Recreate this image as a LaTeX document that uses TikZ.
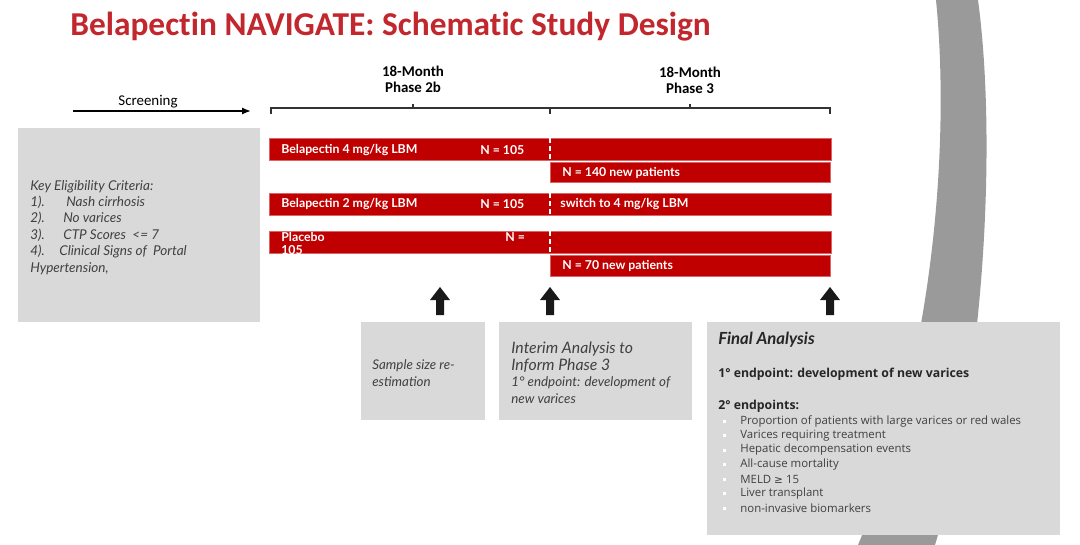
\documentclass[tikz,border=0pt]{standalone}
\usepackage{fontspec}
\setmainfont{Lato}
\newfontfamily\carlito[Ligatures=NoCommon]{Carlito}
\newfontfamily\opensans{Open Sans}
\newfontfamily\dejavu{DejaVu Sans}
\usetikzlibrary{positioning, arrows.meta}

\definecolor{titlered}{HTML}{C1272D}
\definecolor{barred}{HTML}{C00000}
\definecolor{boxgray}{HTML}{D9D9D9}
\definecolor{bandgray}{HTML}{9A9A9A}
\definecolor{txtgray}{HTML}{404040}

\tikzset{
	bar/.style={fill=barred, draw=barred!60!white, line width=0.3pt},
	bartext/.style={anchor=west, inner sep=0pt, text=white, font=\bfseries\fontsize{7}{8}\selectfont},
	boxtext/.style={anchor=north west, inner sep=0pt, align=left, text=txtgray},
	phasehead/.style={align=center, inner sep=0pt, font=\carlito\bfseries\fontsize{8.5}{9.2}\selectfont},
	listtext/.style={anchor=west, inner sep=0pt, text=txtgray, font=\opensans\fontsize{6.5}{8}\selectfont}
}

\begin{document}
\begin{tikzpicture}[x=0.02cm, y=-0.02cm]

	\useasboundingbox (0, 0) rectangle (1080, 545);
	\fill [white] (0, 0) rectangle (1080, 545);

	% grey band on the right
	\fill [bandgray] (936, 0) .. controls (950, 140) and (935, 360) .. (858, 545) -- (935, 545) .. controls (985, 380) and (997, 140) .. (978, 0) -- cycle;

	\node (title) [anchor=base west, inner sep=0pt, text=titlered, font=\carlito\bfseries\fontsize{19}{21}\selectfont] at (70, 35) {Belapectin NAVIGATE: Schematic Study Design};

	% screening arrow
	\coordinate (s1) at (73, 111);
	\coordinate (s2) at (251, 111);
	\draw [line width=1.1pt, -{Latex[length=5pt, width=4pt]}] (s1) -- (s2);
	\node (screen) [inner sep=0pt, font=\carlito\fontsize{8.5}{9}\selectfont] at (148, 102) {Screening};

	% timeline bracket
	\draw [line width=0.7pt, black!80] (271, 114) -- (271, 108) coordinate (t1) -- (830, 108) coordinate (t2) -- (830, 114);
	\draw [line width=0.7pt, black!80] (550, 108) -- (550, 114);
	\draw [line width=0.7pt, black!80] (413, 108) -- (413, 104);
	\draw [line width=0.7pt, black!80] (690, 108) -- (690, 104);

	\node (ph2) [phasehead] at (413, 79) {18-Month\\Phase 2b};
	\node (ph3) [phasehead] at (690, 80) {18-Month\\Phase 3};

	% eligibility box
	\fill [boxgray] (18, 128) rectangle (260, 322);
	\node (elig) [boxtext, font=\itshape\fontsize{7.7}{9.3}\selectfont] at (30, 180) {Key Eligibility Criteria:\\
		\makebox[0.72cm][l]{1).}Nash cirrhosis\\
		\makebox[0.66cm][l]{2).}No varices\\
		\makebox[0.66cm][l]{3).}CTP Scores\ \ <= 7\\
		\makebox[0.58cm][l]{4).}Clinical Signs of\ \ Portal\\
		Hypertension,};

	% treatment arms
	\draw [bar] (269, 138) rectangle (831, 160);
	\draw [bar] (550, 162) rectangle (830, 182);
	\draw [bar] (269, 193) rectangle (831, 215);
	\draw [bar] (269, 231) rectangle (831, 253);
	\draw [bar] (550, 255) rectangle (830, 276);
	\draw [white, line width=0.9pt, dash pattern=on 3pt off 1.5pt] (550, 138) -- (550, 160);
	\draw [white, line width=0.9pt, dash pattern=on 3pt off 1.5pt] (550, 193) -- (550, 215);
	\draw [white, line width=0.9pt, dash pattern=on 3pt off 1.5pt] (550, 231) -- (550, 253);

	\node (arm1) [bartext] at (281, 150) {Belapectin 4 mg/kg LBM};
	\node (n1) [bartext] at (480, 150) {N = 105};
	\node (new1) [bartext] at (562, 172.5) {N = 140 new patients};
	\node (arm2) [bartext] at (281, 204.5) {Belapectin 2 mg/kg LBM};
	\node (n2) [bartext] at (480, 204.5) {N = 105};
	\node (sw2) [bartext] at (560, 204.5) {switch to 4 mg/kg LBM};
	\node (arm3) [bartext] at (281, 237) {Placebo};
	\node (n3) [bartext] at (505, 237) {N =};
	\node (n3b) [bartext] at (281, 250) {105};
	\node (new3) [bartext] at (562, 266) {N = 70 new patients};

	% analysis arrows
	\foreach \ax in {440, 550, 830} {
		\fill [black!90] (\ax, 287) -- (\ax+10, 300) -- (\ax+4, 300) -- (\ax+4, 315) -- (\ax-4, 315) -- (\ax-4, 300) -- (\ax-10, 300) -- cycle;
	}

	% analysis boxes
	\fill [boxgray] (361, 322) rectangle (485, 420);
	\node (sample) [boxtext, font=\itshape\fontsize{7.6}{9.6}\selectfont] at (372, 359) {Sample size re-\\estimation};

	\fill [boxgray] (499, 322) rectangle (692, 420);
	\node (interim) [boxtext, font=\itshape\fontsize{9}{10.2}\selectfont] at (511, 341) {Interim Analysis to\\Inform Phase 3};
	\node (interimep) [boxtext, font=\itshape\fontsize{7.6}{9.6}\selectfont, below=2pt of interim.south west, anchor=north west] {1\textdegree{} endpoint: development of\\new varices};

	\fill [boxgray] (707, 322) rectangle (1060, 535);
	\node (final) [boxtext, text=black!85, font=\bfseries\itshape\fontsize{9.5}{11}\selectfont] at (718, 332) {Final Analysis};
	\node (primary) [boxtext, text=black!85, font=\opensans\bfseries\fontsize{7}{9}\selectfont] at (718, 368) {1\textdegree{} endpoint: development of new varices};
	\node (second) [boxtext, text=black!85, font=\opensans\bfseries\fontsize{7}{9}\selectfont] at (718, 400) {2\textdegree{} endpoints:};

	\foreach \txt [count=\i] in {Proportion of patients with large varices or red wales, Varices requiring treatment, Hepatic decompensation events, All-cause mortality, MELD {\dejavu\fontsize{6}{8}\selectfont ≥} 15, Liver transplant, non-invasive biomarkers} {
		\node (ep\i) [listtext] at (740, 421+14.5*\i-14.5) {\txt};
		\fill [white] (723, 419.5+14.5*\i-14.5) rectangle ++(3, 3);
	}

\end{tikzpicture}
\end{document}
